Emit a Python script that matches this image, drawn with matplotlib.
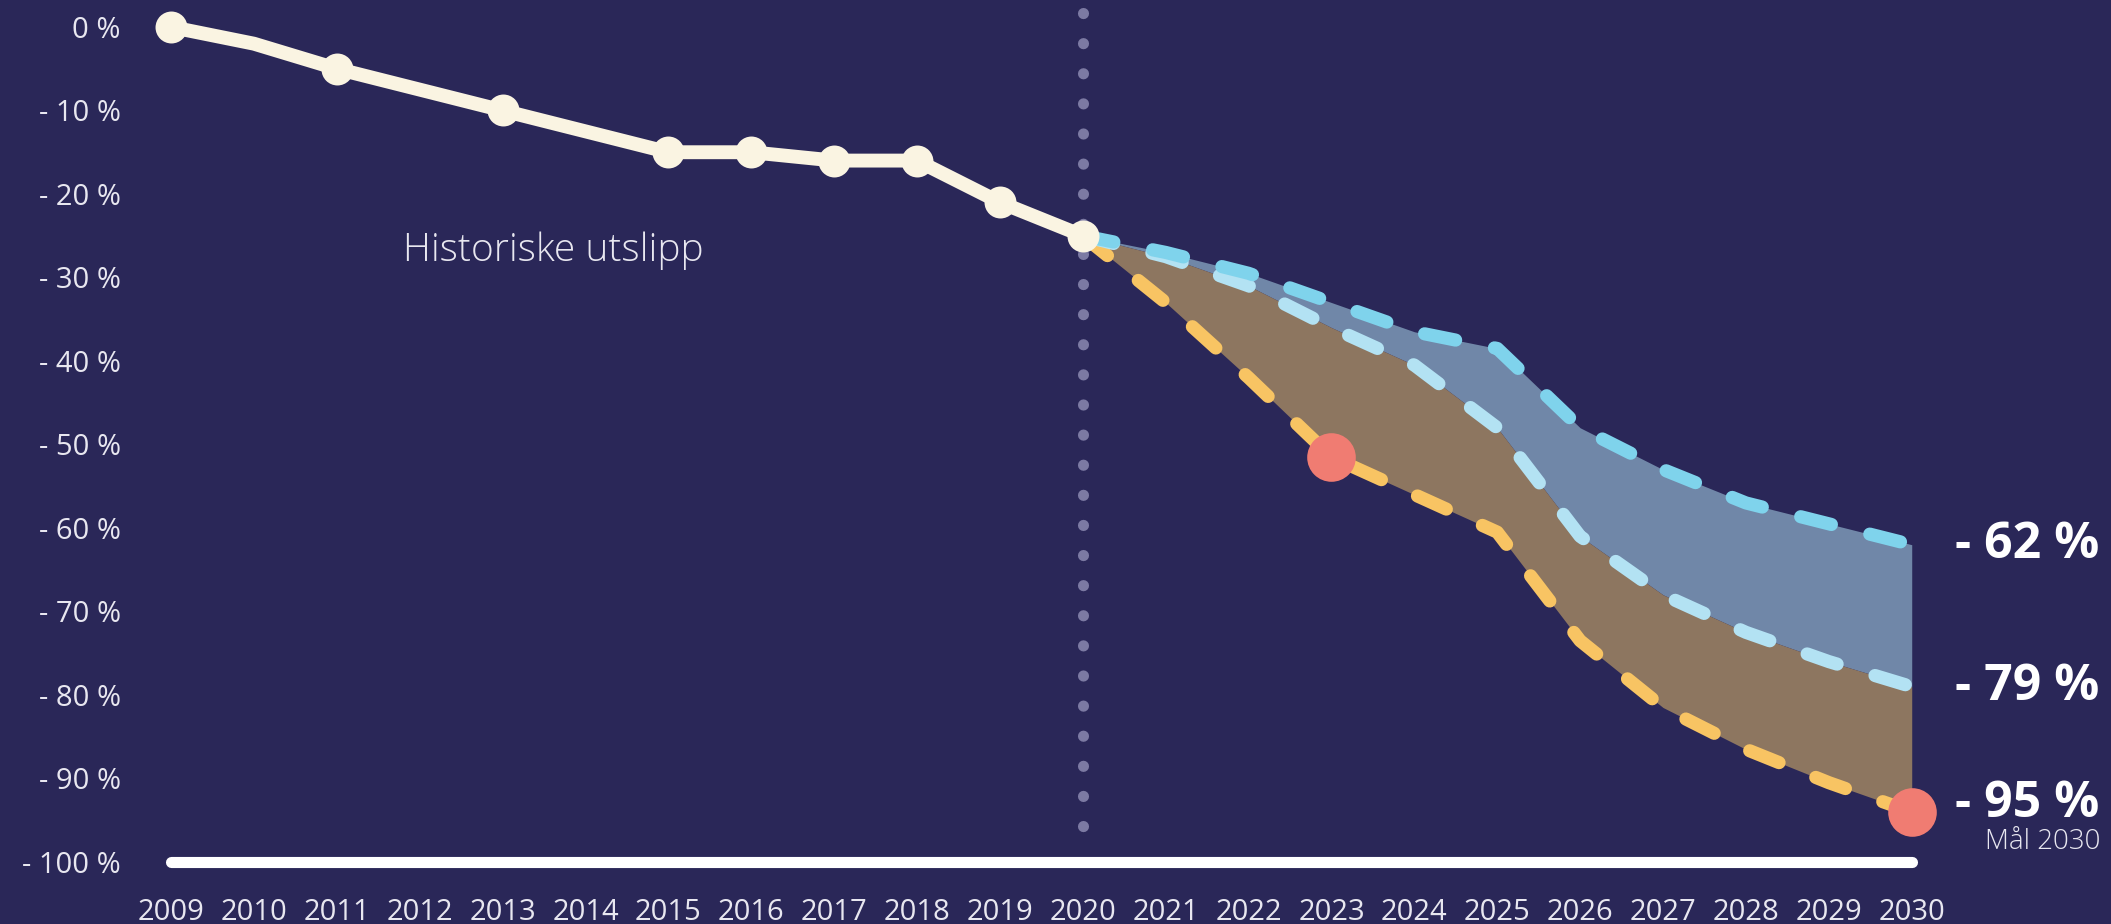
import matplotlib.pyplot as plt

plt.rcParams['font.family'] = ['Open Sans', 'DejaVu Sans']

# historic emissions (change vs 2009, %)
hist_years = [2009, 2010, 2011, 2012, 2013, 2014, 2015, 2016, 2017, 2018, 2019, 2020]
hist_values = [0, -2, -5, -7.5, -10, -12.5, -15, -15, -16, -16, -21, -25]
marker_years = [2009, 2011, 2013, 2015, 2016, 2017, 2018, 2019, 2020]

# scenarios 2020-2030
proj_years = [2020, 2021, 2022, 2023, 2024, 2025, 2026, 2027, 2028, 2029, 2030]
upper = [-25, -27, -29.5, -33, -36.5, -38.5, -48, -53, -57, -59.5, -62]
middle = [-25, -27.5, -31, -36, -40.5, -48, -61, -68, -72.5, -76, -79]
lower = [-25, -33, -42, -51.5, -56, -60.5, -73.5, -81.5, -86.5, -90.5, -94]

target_years = [2023, 2030]
target_values = [-51.5, -94]

end_labels = ['- 62 %', '- 79 %', '- 95 %']
end_values = [-62, -79, -93]

ytick_values = [0, -10, -20, -30, -40, -50, -60, -70, -80, -90, -100]
ytick_labels = ['0 %'] + [f'- {abs(v)} %' for v in ytick_values[1:]]
xtick_years = list(range(2009, 2031))

bg = '#2a2758'
txt = '#e8e7f0'

fig = plt.figure(figsize=(21.11, 9.24), dpi=100, facecolor=bg)
ax = fig.add_axes([0.081, 0.0671, 0.8246, 0.9037])
ax.set_facecolor(bg)
ax.set_xlim(2009, 2030)
ax.set_ylim(-100, 0)
for s in ax.spines.values():
    s.set_visible(False)

# filled bands
ax.fill_between(proj_years, upper, middle, color='#7087a8', lw=0, zorder=1)
ax.fill_between(proj_years, middle, lower, color='#8d7660', lw=0, zorder=1)

# dashed scenario lines
dash_kw = dict(lw=9.5, dash_capstyle='round', dashes=(2.4, 3.0), zorder=3, clip_on=False)
ax.plot(proj_years, lower, color='#f8c463', **dash_kw)
ax.plot(proj_years, middle, color='#b3e2f3', **dash_kw)
ax.plot(proj_years, upper, color='#7fd3ec', **dash_kw)

# vertical dotted line at 2020
ax.plot([2020, 2020], [1.7, -98.5], color='#7c7aa3', lw=8, dashes=(0.01, 2.7),
        dash_capstyle='round', zorder=2, clip_on=False)

# baseline
ax.plot([2009, 2030], [-100, -100], color='white', lw=8, solid_capstyle='round',
        zorder=4, clip_on=False)

# historic line
ax.plot(hist_years, hist_values, color='#faf4e2', lw=10, solid_capstyle='round',
        solid_joinstyle='round', zorder=5, clip_on=False)
mk_vals = [hist_values[hist_years.index(y)] for y in marker_years]
ax.plot(marker_years, mk_vals, 'o', color='#faf4e2', ms=23, mec='none', zorder=6, clip_on=False)

# target dots
ax.plot(target_years, target_values, 'o', color='#f07c72', ms=35, mec='none', zorder=7, clip_on=False)

ax.text(2011.8, -26.8, 'Historiske utslipp', color=txt, fontsize=28, fontweight='light',
        ha='left', va='center')

for lab, v in zip(end_labels, end_values):
    ax.text(2030.52, v, lab, color='white', fontsize=36, fontweight='bold',
            ha='left', va='center', clip_on=False)
ax.text(2032.27, -97.6, 'Mål 2030', color=txt, fontsize=20, fontweight='light',
        ha='right', va='center')

ax.set_yticks(ytick_values)
ax.set_yticklabels(ytick_labels)
ax.set_xticks(xtick_years)
ax.set_xticklabels([str(y) for y in xtick_years])
ax.tick_params(axis='both', length=0, colors=txt, labelsize=21)
ax.tick_params(axis='y', pad=36)
ax.tick_params(axis='x', pad=26)

fig.savefig('out.png', dpi=100, facecolor=bg)
